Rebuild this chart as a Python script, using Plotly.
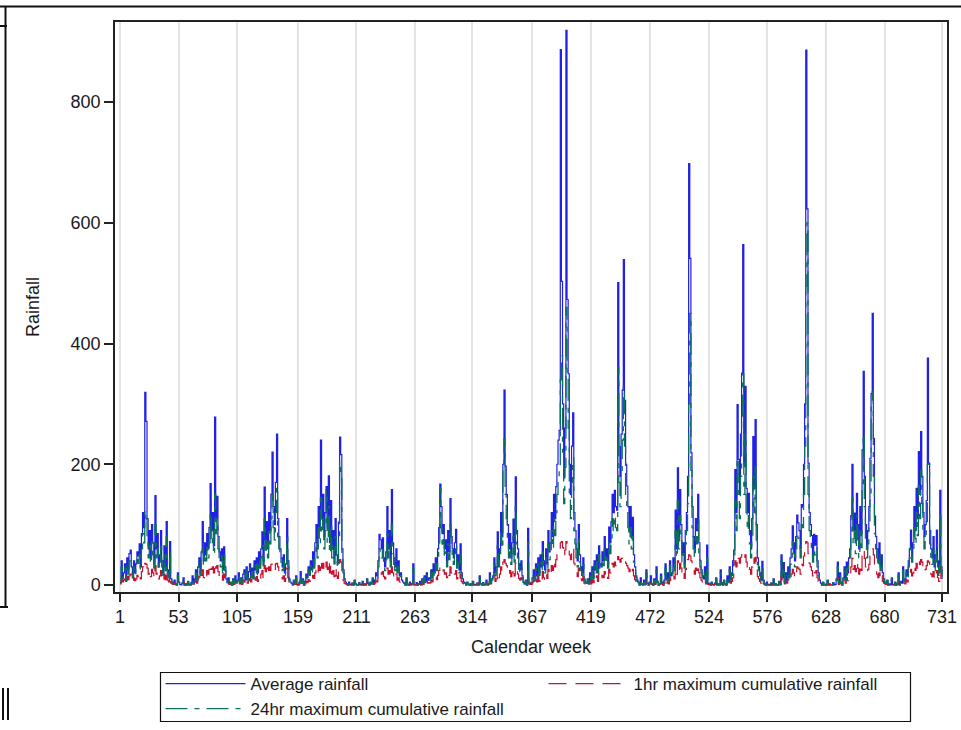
import plotly.graph_objects as go

# ---- x / y tick labels ----
week_ticks = [1, 53, 105, 159, 211, 263, 314, 367, 419, 472, 524, 576, 628, 680, 731]
rain_ticks = [0, 200, 400, 600, 800]

# ---- weekly average rainfall (weeks 1..731) ----
avg_rain = [
    5, 40, 12, 20, 35, 8, 45, 25, 52, 58, 30, 15, 40, 20, 35, 55, 48, 68, 30, 85,
    120, 95, 319, 271, 110, 60, 90, 45, 100, 70, 35, 148, 60, 85, 30, 50, 90, 40, 20, 65,
    30, 105, 25, 15, 72, 10, 5,
    3, 8, 2, 0, 20, 5, 1, 0, 3, 12, 0, 2, 0, 6, 1, 0, 4, 15, 2,
    10, 25, 8, 30, 45, 20, 55, 105, 40, 70, 50, 85, 60, 95, 168, 90, 120, 65, 278, 110,
    147, 80, 55, 40, 60, 25, 63, 30, 10, 5, 12,
    2, 5, 0, 10, 3, 15, 4, 8, 20, 6, 12, 3, 18, 25, 8, 30, 10, 22, 35, 15, 28, 12, 40,
    25, 45, 20, 55, 35, 60, 88, 40, 162, 75, 105, 60, 120, 90, 150, 220, 130, 100, 170, 250,
    110, 80, 60, 45, 30, 50, 20, 35, 110, 40, 10, 5,
    3, 0, 8, 2, 15, 1, 0, 5, 22, 3, 10, 0, 6, 18,
    12, 30, 20, 40, 25, 55, 35, 70, 100, 60, 130, 90, 240, 110, 150, 80, 120, 163, 95, 181,
    70, 140, 60, 90, 45, 110, 50, 35, 104, 245, 216, 60, 25, 10, 5,
    2, 0, 5, 1, 0, 3, 0, 8, 2, 0, 0, 4, 1, 0, 6, 0, 2, 0, 10, 3, 0, 5, 2, 12, 4,
    8, 20, 15, 40, 84, 75, 60, 78, 45, 30, 55, 130, 60, 90, 40, 158, 70, 45, 30, 60,
    25, 40, 15, 20, 8, 5,
    3, 0, 12, 1, 0, 5, 0, 2, 35, 0, 0, 4, 0, 2, 6, 0, 10, 3, 15, 5, 20, 8, 12,
    10, 25, 15, 35, 20, 45, 30, 60, 95, 167, 130, 85, 100, 60, 75, 40, 90, 55, 143, 80,
    60, 45, 70, 92, 35, 50, 25, 68, 20, 10, 5,
    3, 0, 5, 1, 0, 2, 0, 6, 0, 1, 0, 3, 0, 15, 2, 0, 4, 0, 1, 8, 0, 2, 20, 5, 10,
    15, 45, 20, 30, 88, 40, 60, 120, 80, 200, 323, 197, 150, 100, 60, 85, 45, 70, 109, 50,
    179, 90, 60, 35, 25, 40, 15, 5, 2, 8, 0, 94, 5, 2,
    3, 12, 25, 8, 35, 15, 45, 20,
    50, 30, 72, 40, 25, 60, 35, 90, 55, 70, 120, 80, 150, 110, 163, 200, 240, 256, 887, 503,
    300, 180, 260, 919, 473, 350, 200, 150, 230, 285, 120, 90, 60, 40, 100, 50, 30, 20, 45, 10,
    5,
    3, 10, 2, 20, 5, 30, 12, 40,
    25, 50, 20, 65, 35, 30, 55, 40, 80, 45, 60, 35, 96, 70, 105, 150, 120, 157, 130, 124,
    501, 229, 180, 250, 323, 539, 306, 200, 164, 130, 90, 130, 80, 112, 50, 30, 15, 8,
    5, 0, 12, 2, 0, 8, 1, 25, 3, 0, 5, 15, 2, 0, 10, 4, 30, 6, 0, 2,
    18, 5, 0, 8, 35, 10, 20, 5, 40, 15,
    20, 45, 30, 124, 60, 194, 80, 158, 100, 50, 70, 35, 90, 120, 180, 698, 541, 219, 130, 80,
    60, 110, 90, 150, 70, 40, 25, 15, 10, 30, 5, 66, 3,
    2, 0, 5, 1, 0, 3, 12, 0, 2, 0, 25, 4, 0, 8, 2, 0, 15, 5, 30, 10, 20,
    40, 58, 191, 120, 299, 208, 150, 250, 351, 564, 200, 329, 160, 120, 152, 90, 60, 110, 246, 160,
    274, 100, 45, 30, 20, 8,
    39, 8, 2, 0, 5, 0, 1, 0, 3, 0, 10, 0, 2, 0, 0, 6, 1, 50, 12, 37, 5, 20, 8, 30, 15,
    45, 60, 98, 70, 40, 80, 116, 103, 90, 60, 133, 129, 200, 300, 886, 623, 202, 120, 100, 82,
    50, 84, 66, 82, 40, 20, 8,
    3, 0, 5, 0, 1, 0, 8, 0, 2, 0, 0, 4, 0, 1, 10, 38, 3, 20, 5, 0, 12, 30, 8,
    38, 20, 45, 60, 115, 200, 90, 119, 70, 152, 100, 60, 130, 85, 224, 354, 180, 100, 60, 90,
    130, 210, 317, 450, 243, 114, 80, 60, 40, 70, 30, 50, 20, 10, 5,
    3, 8, 0, 2, 0, 12, 1, 0, 5, 0, 2, 20, 0, 6, 3, 30, 10, 5, 25, 15,
    40, 60, 91, 50, 70, 130, 90, 160, 110, 221, 150, 254, 180, 120, 80, 100, 140, 376, 202, 90,
    60, 45, 80, 30, 50, 91, 40, 20, 157, 30, 10,
]

# ---- weekly 24hr maximum cumulative rainfall ----
max24_rain = [
    4, 30, 10, 15, 28, 6, 35, 18, 40, 45, 22, 12, 30, 16, 28, 42, 36, 50, 25, 60,
    85, 70, 124, 110, 75, 45, 65, 35, 72, 50, 28, 100, 45, 60, 24, 38, 70, 30, 16, 50,
    24, 80, 20, 12, 55, 8, 4,
    3, 7, 2, 0, 16, 4, 1, 0, 3, 10, 0, 2, 0, 5, 1, 0, 3, 12, 2,
    8, 20, 6, 24, 35, 16, 42, 70, 32, 52, 40, 62, 45, 70, 120, 68, 90, 50, 150, 85,
    110, 60, 42, 30, 48, 20, 50, 24, 8, 4, 10,
    2, 4, 0, 8, 3, 12, 3, 7, 16, 5, 10, 3, 14, 20, 7, 24, 8, 18, 28, 12, 22, 10, 32,
    20, 35, 16, 42, 28, 45, 65, 32, 110, 58, 78, 45, 88, 68, 110, 150, 95, 75, 120, 163,
    80, 60, 45, 35, 24, 40, 16, 28, 80, 30, 8, 4,
    3, 0, 7, 2, 12, 1, 0, 4, 18, 3, 8, 0, 5, 15,
    10, 24, 16, 32, 20, 42, 28, 52, 75, 45, 95, 68, 150, 85, 110, 60, 90, 157, 70, 130,
    52, 100, 45, 68, 35, 80, 38, 28, 78, 205, 180, 45, 20, 8, 4,
    2, 0, 4, 1, 0, 3, 0, 7, 2, 0, 0, 3, 1, 0, 5, 0, 2, 0, 8, 3, 0, 4, 2, 10, 3,
    6, 16, 12, 30, 60, 55, 45, 58, 34, 24, 42, 85, 45, 65, 30, 100, 52, 34, 24, 45,
    20, 30, 12, 16, 6, 4,
    3, 0, 10, 1, 0, 4, 0, 2, 28, 0, 0, 3, 0, 2, 5, 0, 8, 3, 12, 4, 16, 7, 10,
    8, 20, 12, 28, 16, 35, 24, 45, 70, 160, 95, 62, 75, 45, 55, 30, 68, 42, 100, 60,
    45, 34, 52, 68, 28, 38, 20, 50, 16, 8, 4,
    3, 0, 4, 1, 0, 2, 0, 5, 0, 1, 0, 3, 0, 12, 2, 0, 3, 0, 1, 7, 0, 2, 16, 4, 8,
    12, 35, 16, 24, 65, 30, 45, 85, 60, 194, 242, 150, 110, 75, 45, 62, 34, 52, 80, 38,
    130, 68, 45, 26, 20, 30, 12, 4, 2, 6, 0, 70, 4, 2,
    3, 10, 20, 7, 28, 12, 35, 16,
    38, 24, 55, 30, 20, 45, 28, 68, 42, 52, 90, 60, 110, 82, 120, 150, 180, 190, 340, 380,
    220, 135, 195, 460, 350, 260, 150, 110, 170, 210, 90, 68, 45, 30, 75, 38, 24, 16, 34, 8,
    4,
    3, 8, 2, 16, 4, 24, 10, 32,
    20, 38, 16, 50, 28, 24, 42, 32, 60, 35, 45, 28, 70, 52, 78, 110, 90, 115, 95, 90,
    360, 170, 130, 185, 240, 330, 230, 150, 120, 95, 68, 95, 60, 80, 38, 24, 12, 6,
    4, 0, 10, 2, 0, 7, 1, 20, 3, 0, 4, 12, 2, 0, 8, 3, 24, 5, 0, 2,
    14, 4, 0, 7, 28, 8, 16, 4, 32, 12,
    16, 35, 24, 90, 45, 140, 60, 115, 75, 38, 52, 28, 68, 90, 135, 300, 450, 190, 95, 60,
    45, 80, 68, 110, 52, 30, 20, 12, 8, 24, 4, 50, 2,
    2, 0, 4, 1, 0, 3, 10, 0, 2, 0, 20, 3, 0, 7, 2, 0, 12, 4, 24, 8, 16,
    30, 44, 140, 90, 210, 150, 110, 180, 280, 350, 150, 250, 120, 90, 115, 68, 45, 80, 180, 120,
    200, 75, 34, 24, 15, 6,
    30, 7, 2, 0, 4, 0, 1, 0, 3, 0, 8, 0, 2, 0, 0, 5, 1, 40, 10, 30, 4, 16, 7, 24, 12,
    34, 45, 72, 52, 30, 60, 85, 78, 68, 45, 100, 95, 150, 230, 495, 600, 150, 90, 75, 62,
    38, 62, 50, 62, 30, 15, 6,
    3, 0, 4, 0, 1, 0, 7, 0, 2, 0, 0, 3, 0, 1, 8, 30, 3, 16, 4, 0, 10, 24, 7,
    28, 16, 34, 45, 85, 150, 68, 90, 52, 115, 75, 45, 95, 62, 165, 250, 130, 75, 45, 68,
    95, 150, 300, 320, 180, 85, 60, 45, 30, 52, 24, 38, 16, 8, 4,
    3, 7, 0, 2, 0, 10, 1, 0, 4, 0, 2, 16, 0, 5, 3, 24, 8, 4, 20, 12,
    30, 45, 68, 38, 52, 95, 68, 120, 82, 165, 110, 190, 135, 90, 60, 75, 105, 200, 200, 68,
    45, 34, 60, 24, 38, 68, 30, 16, 115, 24, 8,
]

# ---- weekly 1hr maximum cumulative rainfall ----
max1_rain = [
    2, 12, 5, 8, 10, 3, 14, 9, 15, 18, 10, 6, 12, 7, 10, 16, 14, 20, 10, 22,
    30, 25, 36, 34, 28, 18, 24, 14, 26, 20, 12, 32, 18, 22, 10, 15, 24, 12, 6, 18,
    9, 25, 8, 5, 18, 3, 2,
    1, 3, 1, 0, 6, 2, 0, 0, 1, 4, 0, 1, 0, 2, 0, 0, 1, 5, 1,
    3, 8, 3, 10, 14, 7, 16, 25, 12, 20, 15, 24, 18, 26, 34, 26, 30, 20, 36, 28,
    32, 22, 16, 12, 18, 8, 18, 9, 3, 2, 4,
    1, 2, 0, 3, 1, 5, 1, 3, 6, 2, 4, 1, 6, 8, 3, 10, 3, 7, 11, 5, 9, 4, 12,
    8, 14, 6, 16, 11, 18, 24, 12, 32, 22, 28, 18, 30, 24, 34, 36, 32, 26, 35, 36,
    30, 24, 18, 14, 10, 15, 6, 11, 28, 12, 3, 2,
    1, 0, 3, 1, 5, 0, 0, 2, 7, 1, 3, 0, 2, 6,
    4, 9, 6, 12, 8, 16, 11, 20, 26, 18, 32, 24, 40, 28, 36, 22, 30, 38, 26, 40,
    20, 34, 18, 24, 14, 28, 15, 11, 26, 42, 38, 18, 8, 3, 2,
    1, 0, 2, 0, 0, 1, 0, 3, 1, 0, 0, 1, 0, 0, 2, 0, 1, 0, 3, 1, 0, 2, 1, 4, 1,
    3, 7, 5, 12, 22, 20, 18, 22, 14, 10, 16, 28, 18, 24, 12, 30, 20, 14, 10, 18,
    8, 12, 5, 6, 3, 2,
    1, 0, 4, 0, 0, 2, 0, 1, 10, 0, 0, 1, 0, 1, 2, 0, 3, 1, 5, 2, 6, 3, 4,
    3, 8, 5, 10, 6, 13, 9, 16, 24, 30, 28, 22, 25, 18, 20, 12, 22, 16, 30, 20,
    16, 13, 18, 24, 10, 14, 7, 18, 6, 3, 2,
    1, 0, 2, 0, 0, 1, 0, 2, 0, 0, 0, 1, 0, 5, 1, 0, 1, 0, 0, 3, 0, 1, 6, 2, 3,
    5, 14, 6, 10, 24, 12, 18, 30, 22, 38, 42, 36, 32, 26, 18, 24, 14, 20, 28, 15,
    36, 24, 18, 11, 8, 12, 5, 2, 1, 3, 0, 24, 2, 1,
    1, 4, 8, 3, 11, 5, 14, 6,
    15, 10, 22, 12, 8, 18, 11, 26, 16, 20, 32, 24, 40, 30, 42, 50, 55, 60, 70, 72,
    62, 48, 58, 72, 68, 60, 50, 42, 55, 62, 36, 28, 20, 14, 28, 16, 10, 7, 14, 3,
    2,
    1, 3, 1, 6, 2, 9, 4, 12,
    8, 15, 6, 18, 11, 9, 16, 12, 22, 14, 18, 11, 26, 20, 28, 36, 30, 38, 32, 30,
    47, 42, 38, 44, 46, 47, 42, 36, 32, 28, 22, 28, 20, 26, 15, 9, 5, 3,
    2, 0, 4, 1, 0, 3, 0, 8, 1, 0, 2, 5, 1, 0, 3, 1, 9, 2, 0, 1,
    6, 2, 0, 3, 11, 3, 6, 2, 12, 5,
    7, 14, 10, 32, 18, 40, 24, 36, 28, 15, 20, 11, 26, 32, 42, 50, 48, 40, 32, 24,
    18, 28, 24, 34, 20, 12, 8, 5, 3, 10, 2, 20, 1,
    1, 0, 2, 0, 0, 1, 4, 0, 1, 0, 8, 1, 0, 3, 1, 0, 5, 2, 9, 3, 6,
    12, 18, 40, 30, 48, 44, 36, 46, 50, 52, 44, 50, 38, 30, 36, 26, 18, 30, 44, 36,
    46, 28, 14, 10, 6, 3,
    10, 3, 1, 0, 2, 0, 0, 0, 1, 0, 3, 0, 1, 0, 0, 2, 0, 14, 4, 11, 2, 6, 3, 9, 5,
    14, 18, 26, 20, 12, 22, 30, 28, 26, 18, 34, 32, 48, 60, 72, 70, 52, 36, 30, 24,
    15, 25, 20, 24, 12, 6, 3,
    1, 0, 2, 0, 0, 0, 3, 0, 1, 0, 0, 1, 0, 0, 3, 12, 1, 6, 2, 0, 4, 9, 3,
    12, 7, 14, 18, 30, 44, 26, 32, 22, 38, 28, 18, 34, 24, 48, 58, 44, 30, 20, 26,
    34, 48, 56, 60, 50, 32, 24, 18, 12, 20, 9, 15, 6, 3, 2,
    1, 3, 0, 1, 0, 4, 0, 0, 2, 0, 1, 6, 0, 2, 1, 9, 3, 2, 8, 5,
    12, 18, 26, 15, 20, 32, 24, 36, 28, 40, 34, 42, 38, 30, 22, 26, 32, 40, 38, 24,
    18, 14, 22, 10, 15, 24, 12, 6, 30, 9, 3,
]

if not (len(avg_rain) == len(max24_rain) == len(max1_rain)):
    raise ValueError(f"series lengths differ: {len(avg_rain)}, {len(max24_rain)}, {len(max1_rain)}")

weeks = list(range(1, len(avg_rain) + 1))

FONT = "Liberation Sans, Arial, Helvetica, sans-serif"
TEXT = "#1a1a1a"

# plot-area box in page pixels, used to place the legend and the page rules
PL, PR, PT, PB = 115, 947, 22, 592


def fx(x):
    return (x - PL) / (PR - PL)


def fy(y):
    return (PB - y) / (PB - PT)


fig = go.Figure()
fig.add_trace(go.Scatter(
    x=weeks, y=avg_rain, name="Average rainfall", mode="lines",
    line=dict(color="#2020e6", width=1.2, shape="hv"),
))
fig.add_trace(go.Scatter(
    x=weeks, y=max1_rain, name="1hr maximum cumulative rainfall", mode="lines",
    line=dict(color="#c8102e", width=1.2, shape="hv", dash="18px,9px"),
))
fig.add_trace(go.Scatter(
    x=weeks, y=max24_rain, name="24hr maximum cumulative rainfall", mode="lines",
    line=dict(color="#0b6f5c", width=1.3, shape="hv", dash="22px,7px,5px,7px"),
))

# thin page rules around the graph
rules = [
    (0, 6.5, 961, 6.5),
    (5.5, 6.5, 5.5, 606),
    (0, 26, 7, 26),
    (0, 607, 8, 607),
    (3, 688, 3, 720),
    (8, 688, 8, 720),
]
shapes = [
    dict(type="line", xref="paper", yref="paper",
         x0=fx(a), y0=fy(b), x1=fx(c), y1=fy(d),
         line=dict(color="#111", width=2))
    for a, b, c, d in rules
]
# legend frame
shapes.append(dict(
    type="rect", xref="paper", yref="paper",
    x0=fx(160.5), y0=fy(672.5), x1=fx(910.5), y1=fy(721.5),
    line=dict(color="#111", width=1.2), fillcolor="rgba(0,0,0,0)",
))

fig.update_layout(
    width=961, height=730,
    margin=dict(l=PL, r=961 - PR, t=PT, b=730 - PB, autoexpand=False),
    paper_bgcolor="white", plot_bgcolor="white",
    font=dict(family=FONT, size=18, color=TEXT),
    showlegend=True,
    legend=dict(
        orientation="h", x=fx(160.5), xanchor="left", y=fy(666), yanchor="top",
        entrywidth=288, entrywidthmode="pixels", itemwidth=80,
        borderwidth=0, bgcolor="rgba(0,0,0,0)",
        font=dict(family=FONT, size=17, color=TEXT), traceorder="normal",
    ),
    shapes=shapes,
)

fig.update_xaxes(
    range=[-3.44, 735.44], tickmode="array", tickvals=week_ticks,
    ticktext=[str(t) for t in week_ticks],
    showgrid=True, gridcolor="#e4e4e4", gridwidth=1.5, zeroline=False,
    showline=True, linecolor="#222", linewidth=1.5, mirror=True,
    ticks="outside", ticklen=8, tickcolor="#222", tickwidth=1.5,
    tickfont=dict(family=FONT, size=18, color=TEXT),
    title=dict(text="Calendar week", font=dict(family=FONT, size=18, color=TEXT), standoff=14),
)
fig.update_yaxes(
    range=[-11.6, 932.7], tickmode="array", tickvals=rain_ticks,
    showgrid=False, zeroline=False,
    showline=True, linecolor="#222", linewidth=1.5, mirror=True,
    ticks="outside", ticklen=9, tickcolor="#222", tickwidth=1.5,
    tickfont=dict(family=FONT, size=18, color=TEXT),
    title=dict(text="Rainfall", font=dict(family=FONT, size=18, color=TEXT), standoff=26),
)

fig.write_html("out.html")
